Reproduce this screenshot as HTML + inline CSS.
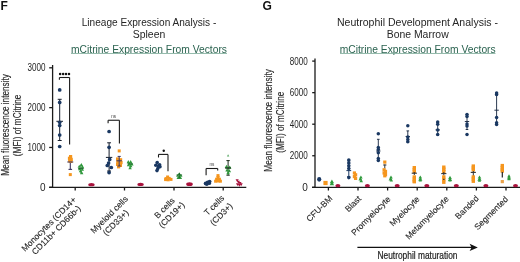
<!DOCTYPE html>
<html><head><meta charset="utf-8"><style>
html,body{margin:0;padding:0;background:#fff;}
body{width:520px;height:262px;overflow:hidden;}
svg{display:block;font-family:"Liberation Sans", sans-serif;will-change:transform;}
</style></head><body>
<svg width="520" height="262" viewBox="0 0 520 262">
<rect width="520" height="262" fill="#fff"/>
<text x="0.5" y="10.2" font-size="12" text-anchor="start" fill="#111" font-weight="bold" >F</text>
<text x="262.5" y="10.3" font-size="12" text-anchor="start" fill="#111" font-weight="bold" >G</text>
<text x="149" y="26.0" font-size="10" text-anchor="middle" fill="#262626" font-weight="normal" textLength="134.5" lengthAdjust="spacingAndGlyphs" >Lineage Expression Analysis -</text>
<text x="149" y="37.5" font-size="10" text-anchor="middle" fill="#262626" font-weight="normal" textLength="32.5" lengthAdjust="spacingAndGlyphs" >Spleen</text>
<text x="149" y="52.7" font-size="10" text-anchor="middle" fill="#2a624f" font-weight="normal" textLength="156" lengthAdjust="spacingAndGlyphs" >mCitrine Expression From Vectors</text>
<line x1="71" y1="53.5" x2="227" y2="53.5" stroke="#7aa997" stroke-width="0.8"/>
<text x="417.5" y="26.4" font-size="10" text-anchor="middle" fill="#262626" font-weight="normal" textLength="161" lengthAdjust="spacingAndGlyphs" >Neutrophil Development Analysis -</text>
<text x="417.7" y="38.0" font-size="10" text-anchor="middle" fill="#262626" font-weight="normal" textLength="62" lengthAdjust="spacingAndGlyphs" >Bone Marrow</text>
<text x="417.7" y="52.7" font-size="10" text-anchor="middle" fill="#2a624f" font-weight="normal" textLength="156" lengthAdjust="spacingAndGlyphs" >mCitrine Expression From Vectors</text>
<line x1="340" y1="53.5" x2="495.5" y2="53.5" stroke="#7aa997" stroke-width="0.8"/>
<line x1="52.6" y1="65" x2="52.6" y2="187.5" stroke="#1a1a1a" stroke-width="1.3"/>
<line x1="49.2" y1="187.3" x2="246.3" y2="187.3" stroke="#1a1a1a" stroke-width="1.25"/>
<line x1="49.2" y1="67.80000000000001" x2="52.6" y2="67.80000000000001" stroke="#1a1a1a" stroke-width="1.3"/>
<text x="45.6" y="71.20000000000002" font-size="10" text-anchor="end" fill="#262626" font-weight="normal" textLength="18" lengthAdjust="spacingAndGlyphs" >3000</text>
<line x1="49.2" y1="107.63333333333335" x2="52.6" y2="107.63333333333335" stroke="#1a1a1a" stroke-width="1.3"/>
<text x="45.6" y="111.03333333333336" font-size="10" text-anchor="end" fill="#262626" font-weight="normal" textLength="18" lengthAdjust="spacingAndGlyphs" >2000</text>
<line x1="49.2" y1="147.4666666666667" x2="52.6" y2="147.4666666666667" stroke="#1a1a1a" stroke-width="1.3"/>
<text x="45.6" y="150.8666666666667" font-size="10" text-anchor="end" fill="#262626" font-weight="normal" textLength="18" lengthAdjust="spacingAndGlyphs" >1000</text>
<line x1="49.2" y1="187.3" x2="52.6" y2="187.3" stroke="#1a1a1a" stroke-width="1.3"/>
<text x="45.6" y="190.70000000000002" font-size="10" text-anchor="end" fill="#262626" font-weight="normal" >0</text>
<line x1="75.2" y1="187.3" x2="75.2" y2="190.5" stroke="#1a1a1a" stroke-width="1.3"/>
<line x1="124.5" y1="187.3" x2="124.5" y2="190.5" stroke="#1a1a1a" stroke-width="1.3"/>
<line x1="174.0" y1="187.3" x2="174.0" y2="190.5" stroke="#1a1a1a" stroke-width="1.3"/>
<line x1="223.2" y1="187.3" x2="223.2" y2="190.5" stroke="#1a1a1a" stroke-width="1.3"/>
<line x1="59.7" y1="99.3" x2="59.7" y2="140.5" stroke="#141c2a" stroke-width="1.0"/>
<line x1="57.720000000000006" y1="99.3" x2="61.68" y2="99.3" stroke="#141c2a" stroke-width="1.0"/>
<line x1="57.720000000000006" y1="140.5" x2="61.68" y2="140.5" stroke="#141c2a" stroke-width="1.0"/>
<line x1="56.400000000000006" y1="121.3" x2="63.0" y2="121.3" stroke="#141c2a" stroke-width="1.0"/>
<circle cx="59.7" cy="89.9" r="1.85" fill="#1a3862"/>
<circle cx="59.7" cy="102.4" r="1.85" fill="#1a3862"/>
<circle cx="59.7" cy="122.3" r="1.85" fill="#1a3862"/>
<circle cx="59.7" cy="125.5" r="1.85" fill="#1a3862"/>
<circle cx="59.7" cy="135.0" r="1.85" fill="#1a3862"/>
<circle cx="59.7" cy="146.5" r="1.85" fill="#1a3862"/>
<line x1="70.3" y1="162" x2="70.3" y2="169.4" stroke="#3a3560" stroke-width="1.1"/>
<line x1="68.5" y1="169.4" x2="72.1" y2="169.4" stroke="#3a3560" stroke-width="1.1"/>
<rect x="69.0" y="155.0" width="3.2" height="3.2" fill="#f5961e"/>
<rect x="67.9" y="156.70000000000002" width="3.2" height="3.2" fill="#f5961e"/>
<rect x="69.60000000000001" y="157.8" width="3.2" height="3.2" fill="#f5961e"/>
<rect x="68.10000000000001" y="159.20000000000002" width="3.2" height="3.2" fill="#f5961e"/>
<rect x="69.3" y="159.8" width="3.2" height="3.2" fill="#f5961e"/>
<line x1="67.3" y1="162.0" x2="73.3" y2="162.0" stroke="#3a3560" stroke-width="1.0"/>
<rect x="68.8" y="173.1" width="3.0" height="3.0" fill="#f5961e"/>
<line x1="80.9" y1="164.5" x2="80.9" y2="173.5" stroke="#1d5e2a" stroke-width="0.9"/>
<polygon points="81.4,163.07 83.10000000000001,166.13 79.7,166.13" fill="#2f9a3c"/>
<polygon points="79.30000000000001,164.67 81.00000000000001,167.73 77.60000000000001,167.73" fill="#2f9a3c"/>
<polygon points="82.5,165.07 84.2,168.13 80.8,168.13" fill="#2f9a3c"/>
<polygon points="79.7,167.07 81.4,170.13 78.0,170.13" fill="#2f9a3c"/>
<polygon points="82.30000000000001,167.67 84.00000000000001,170.73 80.60000000000001,170.73" fill="#2f9a3c"/>
<polygon points="80.5,169.27 82.2,172.33 78.8,172.33" fill="#2f9a3c"/>
<polygon points="81.7,171.07 83.4,174.13 80.0,174.13" fill="#2f9a3c"/>
<line x1="78.10000000000001" y1="168.6" x2="83.7" y2="168.6" stroke="#1d5e2a" stroke-width="0.9"/>
<ellipse cx="91.45" cy="184.65" rx="3.2" ry="1.7" fill="#a8123c"/>
<circle cx="60.1" cy="73.9" r="1.25" fill="#111"/>
<circle cx="63.1" cy="73.9" r="1.25" fill="#111"/>
<circle cx="66.0" cy="73.9" r="1.25" fill="#111"/>
<circle cx="69.0" cy="73.9" r="1.25" fill="#111"/>
<line x1="59.4" y1="77.5" x2="69.6" y2="77.5" stroke="#1a1a1a" stroke-width="1.1"/>
<line x1="59.4" y1="77.5" x2="59.4" y2="79.8" stroke="#1a1a1a" stroke-width="1.1"/>
<line x1="69.6" y1="77.5" x2="69.6" y2="144.4" stroke="#1a1a1a" stroke-width="1.1"/>
<line x1="109.1" y1="142.8" x2="109.1" y2="171.0" stroke="#141c2a" stroke-width="1.0"/>
<line x1="107.17999999999999" y1="142.8" x2="111.02" y2="142.8" stroke="#141c2a" stroke-width="1.0"/>
<line x1="107.17999999999999" y1="171.0" x2="111.02" y2="171.0" stroke="#141c2a" stroke-width="1.0"/>
<line x1="105.89999999999999" y1="157.4" x2="112.3" y2="157.4" stroke="#141c2a" stroke-width="1.0"/>
<circle cx="109.1" cy="131.5" r="1.85" fill="#1a3862"/>
<circle cx="109.1" cy="147.3" r="1.85" fill="#1a3862"/>
<circle cx="109.69999999999999" cy="159.4" r="1.85" fill="#1a3862"/>
<circle cx="107.3" cy="165.5" r="1.85" fill="#1a3862"/>
<circle cx="111.3" cy="167.5" r="1.85" fill="#1a3862"/>
<circle cx="109.1" cy="172.6" r="1.85" fill="#1a3862"/>
<circle cx="108.6" cy="163.0" r="1.85" fill="#1a3862"/>
<rect x="117.7" y="149.4" width="3.0" height="3.0" fill="#f5961e"/>
<rect x="116.00000000000001" y="157.4" width="3.2" height="3.2" fill="#f5961e"/>
<rect x="119.00000000000001" y="158.20000000000002" width="3.2" height="3.2" fill="#f5961e"/>
<rect x="116.2" y="160.0" width="3.2" height="3.2" fill="#f5961e"/>
<rect x="119.4" y="161.0" width="3.2" height="3.2" fill="#f5961e"/>
<rect x="116.00000000000001" y="162.8" width="3.2" height="3.2" fill="#f5961e"/>
<rect x="118.80000000000001" y="163.8" width="3.2" height="3.2" fill="#f5961e"/>
<rect x="117.00000000000001" y="165.20000000000002" width="3.2" height="3.2" fill="#f5961e"/>
<line x1="119.2" y1="156.4" x2="119.2" y2="166.0" stroke="#3a3560" stroke-width="1.0"/>
<line x1="117.64" y1="156.4" x2="120.76" y2="156.4" stroke="#3a3560" stroke-width="1.0"/>
<line x1="117.64" y1="166.0" x2="120.76" y2="166.0" stroke="#3a3560" stroke-width="1.0"/>
<line x1="116.60000000000001" y1="160.8" x2="121.8" y2="160.8" stroke="#3a3560" stroke-width="1.0"/>
<polygon points="128.29999999999998,160.07 129.99999999999997,163.13 126.59999999999998,163.13" fill="#2f9a3c"/>
<polygon points="130.7,160.07 132.39999999999998,163.13 129.0,163.13" fill="#2f9a3c"/>
<polygon points="129.5,161.87 131.2,164.93 127.8,164.93" fill="#2f9a3c"/>
<polygon points="131.9,162.47 133.6,165.53 130.20000000000002,165.53" fill="#2f9a3c"/>
<polygon points="128.5,163.27 130.2,166.33 126.8,166.33" fill="#2f9a3c"/>
<polygon points="130.7,164.07 132.39999999999998,167.13 129.0,167.13" fill="#2f9a3c"/>
<polygon points="130.1,166.07 131.79999999999998,169.13 128.4,169.13" fill="#2f9a3c"/>
<line x1="127.5" y1="163.8" x2="132.7" y2="163.8" stroke="#1d5e2a" stroke-width="0.9"/>
<ellipse cx="140.55" cy="184.4" rx="3.2" ry="1.7" fill="#a8123c"/>
<text x="113.75" y="117.6" font-size="4.6" text-anchor="middle" fill="#444" font-weight="normal" >ns</text>
<line x1="108.1" y1="120.25" x2="119.4" y2="120.25" stroke="#1a1a1a" stroke-width="1.1"/>
<line x1="108.1" y1="120.25" x2="108.1" y2="123.3" stroke="#1a1a1a" stroke-width="1.1"/>
<line x1="119.4" y1="120.25" x2="119.4" y2="143.5" stroke="#1a1a1a" stroke-width="1.1"/>
<circle cx="157.2" cy="162.6" r="1.8" fill="#1a3862"/>
<circle cx="155.8" cy="165.2" r="1.8" fill="#1a3862"/>
<circle cx="159.6" cy="164.8" r="1.8" fill="#1a3862"/>
<circle cx="160.0" cy="166.8" r="1.8" fill="#1a3862"/>
<circle cx="157.8" cy="168.6" r="1.8" fill="#1a3862"/>
<circle cx="157.0" cy="170.6" r="1.8" fill="#1a3862"/>
<circle cx="158.4" cy="166.0" r="1.8" fill="#1a3862"/>
<rect x="166.1" y="175.5" width="3.0" height="3.0" fill="#f5961e"/>
<rect x="164.5" y="177.1" width="3.0" height="3.0" fill="#f5961e"/>
<rect x="167.7" y="176.9" width="3.0" height="3.0" fill="#f5961e"/>
<rect x="169.5" y="177.9" width="3.0" height="3.0" fill="#f5961e"/>
<rect x="164.1" y="178.1" width="3.0" height="3.0" fill="#f5961e"/>
<rect x="166.7" y="178.3" width="3.0" height="3.0" fill="#f5961e"/>
<polygon points="179.3,172.16 180.9,175.04 177.70000000000002,175.04" fill="#2f9a3c"/>
<polygon points="177.70000000000002,173.96 179.3,176.84 176.10000000000002,176.84" fill="#2f9a3c"/>
<polygon points="180.9,173.96 182.5,176.84 179.3,176.84" fill="#2f9a3c"/>
<polygon points="179.3,175.16 180.9,178.04 177.70000000000002,178.04" fill="#2f9a3c"/>
<polygon points="178.10000000000002,176.16 179.70000000000002,179.04 176.50000000000003,179.04" fill="#2f9a3c"/>
<polygon points="180.5,176.16 182.1,179.04 178.9,179.04" fill="#2f9a3c"/>
<line x1="179.3" y1="173" x2="179.3" y2="178.6" stroke="#1d5e2a" stroke-width="0.9"/>
<line x1="176.5" y1="175.0" x2="182.10000000000002" y2="175.0" stroke="#1d5e2a" stroke-width="0.9"/>
<ellipse cx="189.5" cy="184.15" rx="3.3" ry="1.9" fill="#a8123c"/>
<circle cx="163.75" cy="150.8" r="1.2" fill="#111"/>
<line x1="158.5" y1="154.4" x2="168.0" y2="154.4" stroke="#1a1a1a" stroke-width="1.1"/>
<line x1="158.5" y1="154.4" x2="158.5" y2="157.5" stroke="#1a1a1a" stroke-width="1.1"/>
<line x1="168.0" y1="154.4" x2="168.0" y2="171.3" stroke="#1a1a1a" stroke-width="1.1"/>
<circle cx="205.6" cy="183.4" r="1.9" fill="#1a3862"/>
<circle cx="207.6" cy="182.4" r="1.9" fill="#1a3862"/>
<circle cx="209.6" cy="181.6" r="1.9" fill="#1a3862"/>
<circle cx="206.8" cy="184.0" r="1.9" fill="#1a3862"/>
<circle cx="209.2" cy="183.2" r="1.9" fill="#1a3862"/>
<rect x="216.5" y="174.1" width="3.0" height="3.0" fill="#f5961e"/>
<rect x="216.5" y="175.9" width="3.0" height="3.0" fill="#f5961e"/>
<rect x="215.1" y="177.7" width="3.0" height="3.0" fill="#f5961e"/>
<rect x="217.9" y="177.7" width="3.0" height="3.0" fill="#f5961e"/>
<rect x="214.1" y="179.7" width="3.0" height="3.0" fill="#f5961e"/>
<rect x="218.9" y="179.7" width="3.0" height="3.0" fill="#f5961e"/>
<rect x="216.5" y="179.5" width="3.0" height="3.0" fill="#f5961e"/>
<polygon points="228.1,154.32 229.29999999999998,156.48000000000002 226.9,156.48000000000002" fill="#5aa865"/>
<line x1="228.1" y1="160.6" x2="228.1" y2="175.2" stroke="#1a2a1a" stroke-width="1.0"/>
<line x1="226.42" y1="160.6" x2="229.78" y2="160.6" stroke="#1a2a1a" stroke-width="1.0"/>
<line x1="226.42" y1="175.2" x2="229.78" y2="175.2" stroke="#1a2a1a" stroke-width="1.0"/>
<line x1="225.29999999999998" y1="168.0" x2="230.9" y2="168.0" stroke="#1a2a1a" stroke-width="1.0"/>
<polygon points="226.5,164.78 228.3,168.02 224.7,168.02" fill="#2f9a3c"/>
<polygon points="229.7,165.38 231.5,168.62 227.89999999999998,168.62" fill="#2f9a3c"/>
<polygon points="227.1,168.18 228.9,171.42000000000002 225.29999999999998,171.42000000000002" fill="#2f9a3c"/>
<polygon points="229.29999999999998,168.98 231.1,172.22 227.49999999999997,172.22" fill="#2f9a3c"/>
<polygon points="228.1,170.98 229.9,174.22 226.29999999999998,174.22" fill="#2f9a3c"/>
<line x1="225.29999999999998" y1="168.0" x2="230.9" y2="168.0" stroke="#1a2a1a" stroke-width="1.0"/>
<polygon points="235.55,179.16 238.75,179.16 237.15,182.04" fill="#a8123c"/>
<polygon points="236.75,180.76 239.95,180.76 238.35,183.64" fill="#a8123c"/>
<polygon points="238.35,181.96 241.54999999999998,181.96 239.95,184.84" fill="#a8123c"/>
<polygon points="235.95000000000002,183.16 239.15,183.16 237.55,186.04" fill="#a8123c"/>
<polygon points="239.55,183.36 242.75,183.36 241.15,186.24" fill="#a8123c"/>
<polygon points="237.75,183.96 240.95,183.96 239.35,186.84" fill="#a8123c"/>
<text x="211.9" y="165.8" font-size="4.6" text-anchor="middle" fill="#444" font-weight="normal" >ns</text>
<line x1="206.1" y1="168.5" x2="217.7" y2="168.5" stroke="#1a1a1a" stroke-width="1.1"/>
<line x1="206.1" y1="168.5" x2="206.1" y2="175.2" stroke="#1a1a1a" stroke-width="1.1"/>
<line x1="217.7" y1="168.5" x2="217.7" y2="170.6" stroke="#1a1a1a" stroke-width="1.1"/>
<text transform="translate(8.7,124.9) rotate(-90)" x="0" y="0" font-size="10" text-anchor="middle" fill="#2a2a2a" stroke="#2a2a2a" stroke-width="0.15" textLength="101.5" lengthAdjust="spacingAndGlyphs">Mean fluorescence intensity</text>
<text transform="translate(20.7,125.4) rotate(-90)" x="0" y="0" font-size="10" text-anchor="middle" fill="#2a2a2a" stroke="#2a2a2a" stroke-width="0.15" textLength="61.5" lengthAdjust="spacingAndGlyphs">(MFI) of mCitrine</text>
<text transform="translate(48.9,224.1) rotate(-45)" x="0" y="2.81" font-size="8.5" text-anchor="middle" fill="#262626" stroke="#262626" stroke-width="0.12">Monocytes (CD14+</text>
<text transform="translate(56.3,230.1) rotate(-45)" x="0" y="2.81" font-size="8.5" text-anchor="middle" fill="#262626" stroke="#262626" stroke-width="0.12">CD11b+ CD66b-)</text>
<text transform="translate(109.25,214.75) rotate(-45)" x="0" y="2.81" font-size="8.5" text-anchor="middle" fill="#262626" stroke="#262626" stroke-width="0.12">Myeloid cells</text>
<text transform="translate(115.7,222.7) rotate(-45)" x="0" y="2.81" font-size="8.5" text-anchor="middle" fill="#262626" stroke="#262626" stroke-width="0.12">(CD33+)</text>
<text transform="translate(164.5,208.2) rotate(-45)" x="0" y="2.81" font-size="8.5" text-anchor="middle" fill="#262626" stroke="#262626" stroke-width="0.12">B cells</text>
<text transform="translate(171.7,215.05) rotate(-45)" x="0" y="2.81" font-size="8.5" text-anchor="middle" fill="#262626" stroke="#262626" stroke-width="0.12">(CD19+)</text>
<text transform="translate(214.1,205.5) rotate(-45)" x="0" y="2.81" font-size="8.5" text-anchor="middle" fill="#262626" stroke="#262626" stroke-width="0.12">T cells</text>
<text transform="translate(221.35,214.25) rotate(-45)" x="0" y="2.81" font-size="8.5" text-anchor="middle" fill="#262626" stroke="#262626" stroke-width="0.12">(CD3+)</text>
<line x1="315.0" y1="58.5" x2="315.0" y2="187.5" stroke="#1a1a1a" stroke-width="1.3"/>
<line x1="312.0" y1="187.3" x2="520" y2="187.3" stroke="#1a1a1a" stroke-width="1.25"/>
<line x1="312.2" y1="61.10000000000001" x2="315.0" y2="61.10000000000001" stroke="#1a1a1a" stroke-width="1.3"/>
<text x="307.8" y="64.50000000000001" font-size="10" text-anchor="end" fill="#262626" font-weight="normal" textLength="18" lengthAdjust="spacingAndGlyphs" >8000</text>
<line x1="312.2" y1="92.65" x2="315.0" y2="92.65" stroke="#1a1a1a" stroke-width="1.3"/>
<text x="307.8" y="96.05000000000001" font-size="10" text-anchor="end" fill="#262626" font-weight="normal" textLength="18" lengthAdjust="spacingAndGlyphs" >6000</text>
<line x1="312.2" y1="124.20000000000002" x2="315.0" y2="124.20000000000002" stroke="#1a1a1a" stroke-width="1.3"/>
<text x="307.8" y="127.60000000000002" font-size="10" text-anchor="end" fill="#262626" font-weight="normal" textLength="18" lengthAdjust="spacingAndGlyphs" >4000</text>
<line x1="312.2" y1="155.75" x2="315.0" y2="155.75" stroke="#1a1a1a" stroke-width="1.3"/>
<text x="307.8" y="159.15" font-size="10" text-anchor="end" fill="#262626" font-weight="normal" textLength="18" lengthAdjust="spacingAndGlyphs" >2000</text>
<line x1="312.2" y1="187.3" x2="315.0" y2="187.3" stroke="#1a1a1a" stroke-width="1.3"/>
<text x="307.8" y="190.70000000000002" font-size="10" text-anchor="end" fill="#262626" font-weight="normal" >0</text>
<text transform="translate(271.5,120.4) rotate(-90)" x="0" y="0" font-size="10" text-anchor="middle" fill="#2a2a2a" stroke="#2a2a2a" stroke-width="0.15" textLength="102.5" lengthAdjust="spacingAndGlyphs">Mean fluorescence intensity</text>
<text transform="translate(283.8,122.3) rotate(-90)" x="0" y="0" font-size="10" text-anchor="middle" fill="#2a2a2a" stroke="#2a2a2a" stroke-width="0.15" textLength="61" lengthAdjust="spacingAndGlyphs">(MFI) of mCitrine</text>
<line x1="328.4" y1="187.3" x2="328.4" y2="190.5" stroke="#1a1a1a" stroke-width="1.3"/>
<line x1="358.0" y1="187.3" x2="358.0" y2="190.5" stroke="#1a1a1a" stroke-width="1.3"/>
<line x1="387.59999999999997" y1="187.3" x2="387.59999999999997" y2="190.5" stroke="#1a1a1a" stroke-width="1.3"/>
<line x1="417.2" y1="187.3" x2="417.2" y2="190.5" stroke="#1a1a1a" stroke-width="1.3"/>
<line x1="446.79999999999995" y1="187.3" x2="446.79999999999995" y2="190.5" stroke="#1a1a1a" stroke-width="1.3"/>
<line x1="476.4" y1="187.3" x2="476.4" y2="190.5" stroke="#1a1a1a" stroke-width="1.3"/>
<line x1="506.0" y1="187.3" x2="506.0" y2="190.5" stroke="#1a1a1a" stroke-width="1.3"/>
<text transform="translate(319.45,208.65) rotate(-45)" x="0" y="2.81" font-size="8.5" text-anchor="middle" fill="#262626" stroke="#262626" stroke-width="0.12">CFU-BM</text>
<text transform="translate(353.1,203.95) rotate(-45)" x="0" y="2.81" font-size="8.5" text-anchor="middle" fill="#262626" stroke="#262626" stroke-width="0.12">Blast</text>
<text transform="translate(370.85,215.75) rotate(-45)" x="0" y="2.81" font-size="8.5" text-anchor="middle" fill="#262626" stroke="#262626" stroke-width="0.12">Promyelocyte</text>
<text transform="translate(404.65,211.15) rotate(-45)" x="0" y="2.81" font-size="8.5" text-anchor="middle" fill="#262626" stroke="#262626" stroke-width="0.12">Myelocyte</text>
<text transform="translate(427.1,217.75) rotate(-45)" x="0" y="2.81" font-size="8.5" text-anchor="middle" fill="#262626" stroke="#262626" stroke-width="0.12">Metamyelocyte</text>
<text transform="translate(466.95,207.35) rotate(-45)" x="0" y="2.81" font-size="8.5" text-anchor="middle" fill="#262626" stroke="#262626" stroke-width="0.12">Banded</text>
<text transform="translate(491.2,213.15) rotate(-45)" x="0" y="2.81" font-size="8.5" text-anchor="middle" fill="#262626" stroke="#262626" stroke-width="0.12">Segmented</text>
<line x1="357.4" y1="247.4" x2="472" y2="247.4" stroke="#111" stroke-width="1.2"/>
<polygon points="477.8,247.4 469.6,243.8 471.6,247.4 469.6,251.0" fill="#111"/>
<text x="417.5" y="258.9" font-size="10.2" text-anchor="middle" fill="#222" font-weight="normal" textLength="80" lengthAdjust="spacingAndGlyphs" stroke="#222" stroke-width="0.2">Neutrophil maturation</text>
<ellipse cx="319.2" cy="179.3" rx="2.1" ry="2.4" fill="#1a3862"/>
<rect x="323.4" y="180.9" width="4.2" height="4.2" fill="#f5961e"/>
<polygon points="331.9,179.51000000000002 334.0,183.29 329.79999999999995,183.29" fill="#2f9a3c"/>
<polygon points="331.9,181.22 334.09999999999997,185.17999999999998 329.7,185.17999999999998" fill="#2f9a3c"/>
<ellipse cx="337.9" cy="185.7" rx="2.5" ry="1.6" fill="#a8123c"/>
<line x1="348.8" y1="161.0" x2="348.8" y2="176.5" stroke="#1a3862" stroke-width="1.0"/>
<line x1="347.36" y1="161.0" x2="350.24" y2="161.0" stroke="#1a3862" stroke-width="1.0"/>
<line x1="347.36" y1="176.5" x2="350.24" y2="176.5" stroke="#1a3862" stroke-width="1.0"/>
<line x1="346.40000000000003" y1="170.6" x2="351.2" y2="170.6" stroke="#1a3862" stroke-width="1.0"/>
<circle cx="348.8" cy="160.0" r="1.8" fill="#1a3862"/>
<circle cx="348.8" cy="163.0" r="1.8" fill="#1a3862"/>
<circle cx="348.8" cy="165.8" r="1.8" fill="#1a3862"/>
<circle cx="348.8" cy="168.6" r="1.8" fill="#1a3862"/>
<circle cx="348.8" cy="177.6" r="1.8" fill="#1a3862"/>
<rect x="352.79999999999995" y="171.4" width="3.2" height="3.2" fill="#f5961e"/>
<rect x="354.0" y="173.20000000000002" width="3.2" height="3.2" fill="#f5961e"/>
<rect x="352.79999999999995" y="175.0" width="3.2" height="3.2" fill="#f5961e"/>
<rect x="354.0" y="176.8" width="3.2" height="3.2" fill="#f5961e"/>
<polygon points="360.9,175.38 362.7,178.62 359.09999999999997,178.62" fill="#2f9a3c"/>
<polygon points="360.4,177.09 362.29999999999995,180.51000000000002 358.5,180.51000000000002" fill="#2f9a3c"/>
<polygon points="361.2,178.98 363.0,182.22 359.4,182.22" fill="#2f9a3c"/>
<ellipse cx="367.4" cy="185.7" rx="2.5" ry="1.6" fill="#a8123c"/>
<line x1="378.3" y1="139.3" x2="378.3" y2="160.5" stroke="#14243d" stroke-width="0.9"/>
<line x1="376.98" y1="139.3" x2="379.62" y2="139.3" stroke="#14243d" stroke-width="0.9"/>
<line x1="376.98" y1="160.5" x2="379.62" y2="160.5" stroke="#14243d" stroke-width="0.9"/>
<line x1="376.1" y1="151.0" x2="380.5" y2="151.0" stroke="#14243d" stroke-width="0.9"/>
<circle cx="378.3" cy="133.8" r="1.75" fill="#1a3862"/>
<circle cx="378.3" cy="147.6" r="1.75" fill="#1a3862"/>
<circle cx="378.3" cy="149.4" r="1.75" fill="#1a3862"/>
<circle cx="378.3" cy="152.8" r="1.75" fill="#1a3862"/>
<circle cx="378.3" cy="158.4" r="1.75" fill="#1a3862"/>
<circle cx="378.3" cy="160.4" r="1.75" fill="#1a3862"/>
<rect x="383.2" y="160.5" width="3.2" height="3.2" fill="#f5961e"/>
<line x1="384.8" y1="164.5" x2="384.8" y2="168.5" stroke="#333" stroke-width="1.0"/>
<line x1="383.2" y1="165.0" x2="386.40000000000003" y2="165.0" stroke="#333" stroke-width="1.0"/>
<rect x="382.5" y="168.20000000000002" width="3.2" height="3.2" fill="#f5961e"/>
<rect x="383.9" y="169.8" width="3.2" height="3.2" fill="#f5961e"/>
<rect x="382.5" y="171.4" width="3.2" height="3.2" fill="#f5961e"/>
<rect x="383.9" y="173.0" width="3.2" height="3.2" fill="#f5961e"/>
<rect x="383.2" y="174.20000000000002" width="3.2" height="3.2" fill="#f5961e"/>
<polygon points="391.0,175.38 392.8,178.62 389.2,178.62" fill="#2f9a3c"/>
<polygon points="390.6,177.0 392.6,180.60000000000002 388.6,180.60000000000002" fill="#2f9a3c"/>
<polygon points="391.3,178.47 393.0,181.53 389.6,181.53" fill="#2f9a3c"/>
<ellipse cx="397.2" cy="185.7" rx="2.5" ry="1.6" fill="#a8123c"/>
<line x1="407.8" y1="130.9" x2="407.8" y2="142.0" stroke="#14243d" stroke-width="0.9"/>
<line x1="406.48" y1="130.9" x2="409.12" y2="130.9" stroke="#14243d" stroke-width="0.9"/>
<line x1="406.48" y1="142.0" x2="409.12" y2="142.0" stroke="#14243d" stroke-width="0.9"/>
<line x1="405.6" y1="136.5" x2="410.0" y2="136.5" stroke="#14243d" stroke-width="0.9"/>
<circle cx="407.8" cy="125.7" r="1.75" fill="#1a3862"/>
<circle cx="407.8" cy="137.0" r="1.75" fill="#1a3862"/>
<circle cx="407.8" cy="139.5" r="1.75" fill="#1a3862"/>
<circle cx="407.8" cy="141.8" r="1.75" fill="#1a3862"/>
<rect x="412.6" y="166.0" width="3.4" height="3.4" fill="#f5961e"/>
<rect x="412.6" y="167.9" width="3.4" height="3.4" fill="#f5961e"/>
<rect x="412.6" y="169.70000000000002" width="3.4" height="3.4" fill="#f5961e"/>
<line x1="411.7" y1="173.2" x2="416.90000000000003" y2="173.2" stroke="#333" stroke-width="1.1"/>
<line x1="414.3" y1="172" x2="414.3" y2="175" stroke="#333" stroke-width="1.0"/>
<rect x="412.6" y="175.3" width="3.4" height="3.4" fill="#f5961e"/>
<rect x="412.6" y="177.3" width="3.4" height="3.4" fill="#f5961e"/>
<rect x="412.6" y="179.3" width="3.4" height="3.4" fill="#f5961e"/>
<rect x="412.6" y="180.0" width="3.4" height="3.4" fill="#f5961e"/>
<polygon points="420.3,175.38 422.1,178.62 418.5,178.62" fill="#2f9a3c"/>
<polygon points="420.3,176.91000000000003 422.40000000000003,180.69 418.2,180.69" fill="#2f9a3c"/>
<polygon points="420.3,178.56 421.90000000000003,181.44 418.7,181.44" fill="#2f9a3c"/>
<ellipse cx="426.8" cy="185.7" rx="2.5" ry="1.6" fill="#a8123c"/>
<line x1="437.7" y1="122.5" x2="437.7" y2="135.0" stroke="#14243d" stroke-width="0.9"/>
<line x1="436.38" y1="122.5" x2="439.02" y2="122.5" stroke="#14243d" stroke-width="0.9"/>
<line x1="436.38" y1="135.0" x2="439.02" y2="135.0" stroke="#14243d" stroke-width="0.9"/>
<line x1="435.5" y1="129.9" x2="439.9" y2="129.9" stroke="#14243d" stroke-width="0.9"/>
<circle cx="437.7" cy="122.1" r="1.75" fill="#1a3862"/>
<circle cx="437.7" cy="124.2" r="1.75" fill="#1a3862"/>
<circle cx="437.7" cy="129.9" r="1.75" fill="#1a3862"/>
<circle cx="437.7" cy="134.5" r="1.75" fill="#1a3862"/>
<rect x="442.1" y="165.5" width="3.4" height="3.4" fill="#f5961e"/>
<rect x="442.1" y="167.5" width="3.4" height="3.4" fill="#f5961e"/>
<rect x="442.1" y="169.70000000000002" width="3.4" height="3.4" fill="#f5961e"/>
<line x1="441.2" y1="173.6" x2="446.40000000000003" y2="173.6" stroke="#333" stroke-width="1.1"/>
<line x1="443.8" y1="172" x2="443.8" y2="175.5" stroke="#333" stroke-width="1.0"/>
<rect x="442.1" y="175.3" width="3.4" height="3.4" fill="#f5961e"/>
<rect x="442.1" y="177.9" width="3.4" height="3.4" fill="#f5961e"/>
<rect x="442.1" y="180.5" width="3.4" height="3.4" fill="#f5961e"/>
<line x1="443.0" y1="179.3" x2="444.6" y2="179.3" stroke="#333" stroke-width="1.0"/>
<polygon points="450.0,175.68 451.8,178.92000000000002 448.2,178.92000000000002" fill="#2f9a3c"/>
<polygon points="450.0,177.11 452.1,180.89 447.9,180.89" fill="#2f9a3c"/>
<polygon points="450.0,178.56 451.6,181.44 448.4,181.44" fill="#2f9a3c"/>
<ellipse cx="456.3" cy="185.7" rx="2.5" ry="1.6" fill="#a8123c"/>
<line x1="467.0" y1="114.5" x2="467.0" y2="129.5" stroke="#14243d" stroke-width="0.9"/>
<line x1="465.68" y1="114.5" x2="468.32" y2="114.5" stroke="#14243d" stroke-width="0.9"/>
<line x1="465.68" y1="129.5" x2="468.32" y2="129.5" stroke="#14243d" stroke-width="0.9"/>
<line x1="464.8" y1="121.5" x2="469.2" y2="121.5" stroke="#14243d" stroke-width="0.9"/>
<circle cx="467.0" cy="114.4" r="1.75" fill="#1a3862"/>
<circle cx="467.0" cy="116.5" r="1.75" fill="#1a3862"/>
<circle cx="467.0" cy="123.9" r="1.75" fill="#1a3862"/>
<circle cx="467.0" cy="126.0" r="1.75" fill="#1a3862"/>
<circle cx="467.0" cy="134.4" r="1.75" fill="#1a3862"/>
<rect x="471.6" y="164.4" width="3.4" height="3.4" fill="#f5961e"/>
<rect x="471.6" y="166.3" width="3.4" height="3.4" fill="#f5961e"/>
<rect x="471.6" y="168.10000000000002" width="3.4" height="3.4" fill="#f5961e"/>
<line x1="470.7" y1="172.4" x2="475.90000000000003" y2="172.4" stroke="#333" stroke-width="1.1"/>
<line x1="473.3" y1="171" x2="473.3" y2="176" stroke="#333" stroke-width="1.0"/>
<rect x="471.6" y="175.3" width="3.4" height="3.4" fill="#f5961e"/>
<rect x="471.6" y="177.3" width="3.4" height="3.4" fill="#f5961e"/>
<rect x="471.6" y="179.5" width="3.4" height="3.4" fill="#f5961e"/>
<polygon points="479.5,175.38 481.3,178.62 477.7,178.62" fill="#2f9a3c"/>
<polygon points="479.5,176.91000000000003 481.6,180.69 477.4,180.69" fill="#2f9a3c"/>
<polygon points="479.5,178.76 481.1,181.64 477.9,181.64" fill="#2f9a3c"/>
<ellipse cx="485.9" cy="185.7" rx="2.5" ry="1.6" fill="#a8123c"/>
<line x1="496.6" y1="95.0" x2="496.6" y2="124.5" stroke="#14243d" stroke-width="0.9"/>
<line x1="495.28000000000003" y1="95.0" x2="497.92" y2="95.0" stroke="#14243d" stroke-width="0.9"/>
<line x1="495.28000000000003" y1="124.5" x2="497.92" y2="124.5" stroke="#14243d" stroke-width="0.9"/>
<line x1="494.40000000000003" y1="110.2" x2="498.8" y2="110.2" stroke="#14243d" stroke-width="0.9"/>
<circle cx="496.6" cy="93.0" r="1.75" fill="#1a3862"/>
<circle cx="496.6" cy="94.5" r="1.75" fill="#1a3862"/>
<circle cx="496.6" cy="117.6" r="1.75" fill="#1a3862"/>
<circle cx="496.6" cy="122.8" r="1.75" fill="#1a3862"/>
<circle cx="496.6" cy="124.5" r="1.75" fill="#1a3862"/>
<rect x="500.6" y="163.9" width="3.4" height="3.4" fill="#f5961e"/>
<rect x="500.6" y="165.9" width="3.4" height="3.4" fill="#f5961e"/>
<rect x="500.6" y="167.9" width="3.4" height="3.4" fill="#f5961e"/>
<rect x="500.6" y="169.3" width="3.4" height="3.4" fill="#f5961e"/>
<line x1="502.3" y1="172" x2="502.3" y2="177.5" stroke="#222" stroke-width="1.2"/>
<rect x="500.7" y="180.0" width="3.2" height="3.2" fill="#e9a24a"/>
<polygon points="509.0,174.18 510.8,177.42000000000002 507.2,177.42000000000002" fill="#2f9a3c"/>
<polygon points="509.0,175.71 511.1,179.48999999999998 506.9,179.48999999999998" fill="#2f9a3c"/>
<polygon points="509.0,177.46 510.6,180.34 507.4,180.34" fill="#2f9a3c"/>
<ellipse cx="515.5" cy="185.7" rx="2.5" ry="1.6" fill="#a8123c"/>
</svg></body></html>
